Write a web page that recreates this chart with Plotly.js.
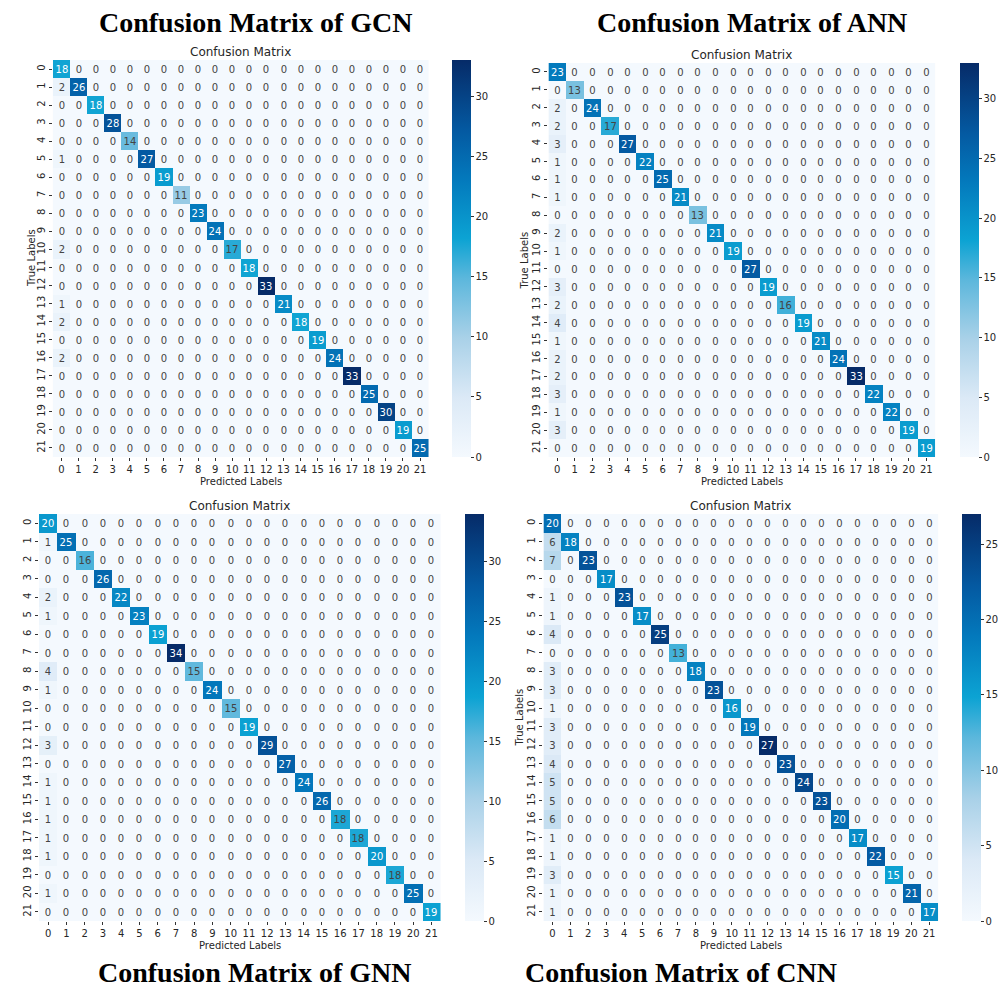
<!DOCTYPE html>
<html><head><meta charset="utf-8">
<script src="https://cdn.plot.ly/plotly-3.0.1.min.js"></script>
<style>html,body{margin:0;padding:0;background:#fff}#chart{width:998px;height:995px}</style>
</head><body><div id="chart"></div>
<script>
const labels = ['0','1','2','3','4','5','6','7','8','9','10','11','12','13','14','15','16','17','18','19','20','21'];
// diagonal counts per model
const gcnDiag = [18,26,18,28,14,27,19,11,23,24,17,18,33,21,18,19,24,33,25,30,19,25];
const annDiag = [23,13,24,17,27,22,25,21,13,21,19,27,19,16,19,21,24,33,22,22,19,19];
const gnnDiag = [20,25,16,26,22,23,19,34,15,24,15,19,29,27,24,26,18,18,20,18,25,19];
const cnnDiag = [20,18,23,17,23,17,25,13,18,23,16,19,27,23,24,23,20,17,22,15,21,17];
// off-diagonal counts predicted as class 0 (row 0 entry is the diagonal)
const gcnCol0 = [0,2,0,0,0,1,0,0,0,0,2,0,0,1,2,0,2,0,0,0,0,0];
const annCol0 = [0,0,2,2,3,1,1,1,0,2,1,0,3,2,4,1,2,2,3,1,3,0];
const gnnCol0 = [0,1,0,0,2,1,0,0,4,1,0,0,3,0,1,1,1,1,1,0,1,0];
const cnnCol0 = [0,6,7,0,1,1,4,0,3,3,1,3,3,4,5,5,6,1,1,3,1,1];
const panelTitles = ['Confusion Matrix of GCN','Confusion Matrix of ANN','Confusion Matrix of GNN','Confusion Matrix of CNN'];
const zMax = [33,33,34,27];

function buildMatrix(diag, col0){
  return diag.map((d,i)=>labels.map((_,j)=> i===j ? d : (j===0 ? col0[i] : 0)));
}
const mats = [buildMatrix(gcnDiag,gcnCol0), buildMatrix(annDiag,annCol0), buildMatrix(gnnDiag,gnnCol0), buildMatrix(cnnDiag,cnnCol0)];

const W=998, H=995;
// pixel boxes [x0,x1,y0,y1]
const boxes = [[53,429,60,457],[549,936,63,457],[39,441,514,921],[544,939,514,921]];
const cbX = [452,960,465,962];
const colorscale = [
  [0,'#f4f9fe'],[0.15,'#dbe9f6'],[0.3,'#a9d1e8'],[0.45,'#5cb7dc'],
  [0.55,'#0ca3d3'],[0.7,'#0379bc'],[0.82,'#045aa2'],[1,'#062b68']];
const font = {family:'DejaVu Sans', size:10, color:'#262626'};

const traces=[]; const layout = {width:W,height:H,margin:{l:0,r:0,t:0,b:0},paper_bgcolor:'#fff',plot_bgcolor:'#fff',showlegend:false,annotations:[],font:font};
mats.forEach((z,k)=>{
  const n = k+1; const xa = 'xaxis'+(n===1?'':n), ya='yaxis'+(n===1?'':n);
  const b = boxes[k];
  traces.push({type:'heatmap', z:z, x:labels, y:labels, xaxis:'x'+(n===1?'':n), yaxis:'y'+(n===1?'':n),
    colorscale:colorscale, zmin:0, zmax:zMax[k], texttemplate:'%{z}', textfont:{family:'DejaVu Sans', size:10},
    hoverinfo:'skip',
    colorbar:{x:cbX[k]/W, xanchor:'left', xpad:0, ypad:0, y:1-b[3]/H, yanchor:'bottom', len:(b[3]-b[2])/H, lenmode:'fraction',
      thickness:19, outlinewidth:0, ticks:'outside', ticklen:3, tickcolor:'#333', dtick:5, tick0:0, tickfont:font}});
  layout[xa] = {domain:[b[0]/W,b[1]/W], type:'category', anchor:'y'+(n===1?'':n), ticks:'outside', ticklen:3, tickcolor:'#333',
    tickfont:font, showgrid:false, zeroline:false, showline:false, tickangle:0, fixedrange:true};
  layout[ya] = {domain:[1-b[3]/H,1-b[2]/H], type:'category', anchor:'x'+(n===1?'':n), autorange:'reversed', ticks:'outside', ticklen:3, tickcolor:'#333',
    tickfont:font, showgrid:false, zeroline:false, showline:false, tickangle:-90, fixedrange:true};
  const cx = (b[0]+b[1])/2/W;
  layout.annotations.push({text:'Confusion Matrix', x:cx, y:1-(b[2]-8)/H, xref:'paper', yref:'paper', xanchor:'center', yanchor:'middle', showarrow:false, font:{family:'DejaVu Sans',size:12,color:'#262626'}});
  layout.annotations.push({text:'Predicted Labels', x:cx, y:1-(b[3]+24)/H, xref:'paper', yref:'paper', xanchor:'center', yanchor:'middle', showarrow:false, font:{family:'DejaVu Sans',size:10,color:'#262626'}});
});
// True Labels (GNN one is cropped in the original)
[[32,258],[525,260],[520,717]].forEach(p=>{
  layout.annotations.push({text:'True Labels', x:p[0]/W, y:1-p[1]/H, xref:'paper', yref:'paper', xanchor:'center', yanchor:'middle', textangle:-90, showarrow:false, font:{family:'DejaVu Sans',size:10,color:'#262626'}});
});
// big panel titles
[[256,22],[753,22],[255,972],[682,972]].forEach((p,i)=>{
  layout.annotations.push({text:'<b>'+panelTitles[i]+'</b>', x:p[0]/W, y:1-p[1]/H, xref:'paper', yref:'paper', xanchor:'center', yanchor:'middle', showarrow:false, font:{family:'Liberation Serif',size:28,color:'#000'}});
});
Plotly.newPlot('chart', traces, layout, {staticPlot:true});
</script></body></html>
